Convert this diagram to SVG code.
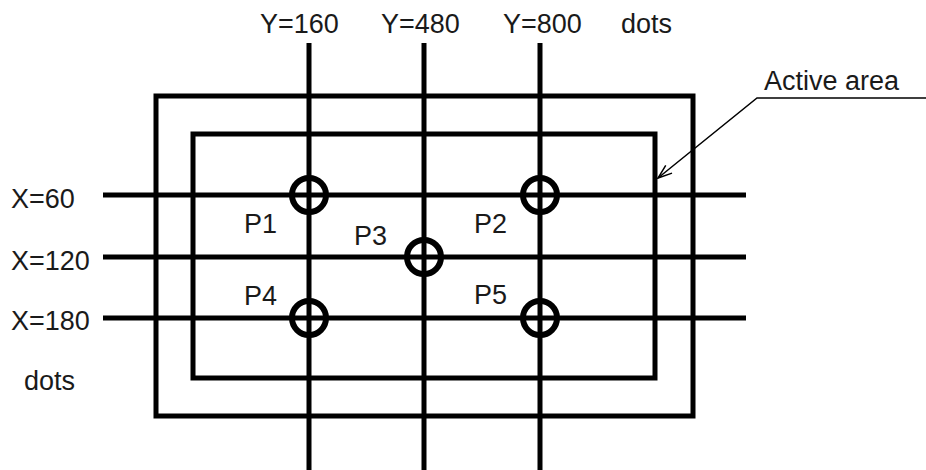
<svg xmlns="http://www.w3.org/2000/svg" width="926" height="470" viewBox="0 0 926 470">
<style>
.t{font-family:"Liberation Sans",Arial,sans-serif;font-size:27px;fill:#1a1a1a}
.thick{stroke:#000;stroke-width:5;fill:none}
.ring{stroke:#000;stroke-width:6;fill:none}
.lead{stroke:#000;stroke-width:1.5;fill:none}
</style>
<defs>
<marker id="arr" markerWidth="16" markerHeight="12" refX="15" refY="6" orient="auto" markerUnits="userSpaceOnUse">
<path d="M1,1 L15,6 L1,11" fill="none" stroke="#000" stroke-width="1.5"/>
</marker>
</defs>
<rect width="926" height="470" fill="#fff"/>
<g id="outer-frame"><rect class="thick" x="156" y="96" width="537" height="320"/></g>
<g id="active-area"><rect class="thick" x="193" y="134" width="462" height="244"/></g>
<g id="connectors">
<line class="thick" x1="309" y1="43" x2="309" y2="470"/>
<line class="thick" x1="424" y1="43" x2="424" y2="470"/>
<line class="thick" x1="540" y1="43" x2="540" y2="470"/>
<line class="thick" x1="103" y1="195" x2="746" y2="195"/>
<line class="thick" x1="103" y1="257" x2="746" y2="257"/>
<line class="thick" x1="103" y1="318" x2="746" y2="318"/>
<polyline class="lead" points="926,98 757,98 658,178" marker-end="url(#arr)"/>
</g>
<g id="P1"><circle class="ring" cx="309" cy="195" r="17"/><text class="t" x="244" y="233">P1</text></g>
<g id="P2"><circle class="ring" cx="540" cy="195" r="17"/><text class="t" x="474" y="233">P2</text></g>
<g id="P3"><circle class="ring" cx="424" cy="257" r="17"/><text class="t" x="354" y="245">P3</text></g>
<g id="P4"><circle class="ring" cx="309" cy="318" r="17"/><text class="t" x="244" y="305">P4</text></g>
<g id="P5"><circle class="ring" cx="540" cy="318" r="17"/><text class="t" x="474" y="304">P5</text></g>
<g id="labels">
<text class="t" x="260" y="33">Y=160</text>
<text class="t" x="381" y="33">Y=480</text>
<text class="t" x="503" y="33">Y=800</text>
<text class="t" x="621" y="33">dots</text>
<text class="t" x="11" y="208">X=60</text>
<text class="t" x="11" y="270">X=120</text>
<text class="t" x="11" y="330">X=180</text>
<text class="t" x="24" y="390">dots</text>
<text class="t" x="764" y="90">Active area</text>
</g>
</svg>
